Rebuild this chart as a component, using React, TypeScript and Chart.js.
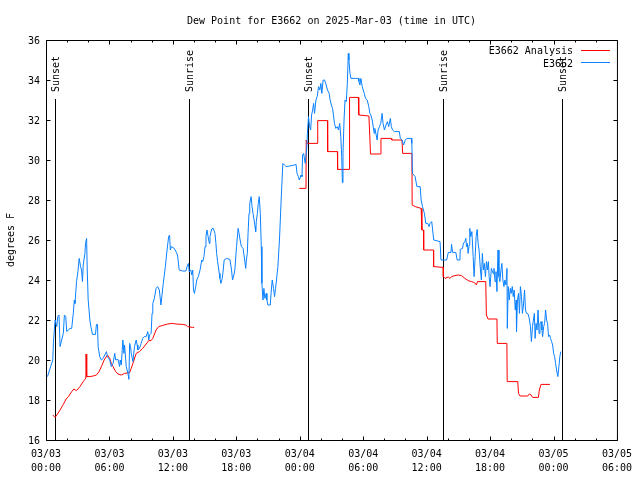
import React, { useEffect, useRef } from "react";
import { Chart, registerables } from "chart.js";

Chart.register(...registerables);

const FONT = "'DejaVu Sans Mono', 'Liberation Mono', monospace";

const TITLE = "Dew Point for E3662 on 2025-Mar-03 (time in UTC)";
const Y_TITLE = "degrees F";
const SERIES_NAMES = ["E3662 Analysis", "E3662"];
const SERIES_COLORS = ["#ff0000", "#0a80ff"];

// hours since 03/03 00:00 UTC
const X_MIN = 0;
const X_MAX = 54;
const X_STEP = 6;
const X_MINOR = 2;
const X_TICK_DATES = ["03/03", "03/03", "03/03", "03/03", "03/04", "03/04", "03/04", "03/04", "03/05", "03/05"];
const X_TICK_TIMES = ["00:00", "06:00", "12:00", "18:00", "00:00", "06:00", "12:00", "18:00", "00:00", "06:00"];

const Y_MIN = 16;
const Y_MAX = 36;
const Y_STEP = 2;

const SUN_EVENTS = ["Sunset", "Sunrise", "Sunset", "Sunrise", "Sunset"];
const SUN_TIMES = [0.83, 13.5, 24.77, 37.57, 48.85];

// E3662 observations: [hour, dew point F]
const observed: [number, number][] = [
  [0.14, 19.17], [0.64, 20.0], [0.7, 20.85], [0.86, 22.0], [1.02, 21.67], [1.11, 22.17], [1.23, 22.25],
  [1.33, 20.67], [1.48, 21.0], [1.64, 21.33], [1.74, 22.25], [1.87, 22.17], [1.96, 21.42], [2.27, 21.58],
  [2.43, 21.58], [2.58, 22.33], [2.68, 23.0], [2.74, 22.83], [2.89, 23.92], [3.02, 24.42], [3.14, 25.08],
  [3.27, 24.67], [3.36, 24.5], [3.45, 23.92], [3.52, 24.75], [3.68, 25.33], [3.74, 25.83], [3.84, 26.08],
  [3.9, 24.5], [3.99, 23.0], [4.15, 22.0], [4.24, 21.67], [4.4, 21.28], [4.68, 21.28], [4.77, 21.78],
  [4.87, 21.78], [4.93, 20.67], [5.08, 20.17], [5.24, 20.0], [5.4, 20.08], [5.56, 20.25], [5.72, 20.42],
  [5.81, 20.17], [6.03, 20.0], [6.18, 19.67], [6.34, 19.83], [6.5, 20.33], [6.59, 20.0], [6.81, 20.03],
  [6.96, 19.67], [7.02, 20.0], [7.12, 19.75], [7.27, 21.0], [7.37, 20.33], [7.43, 20.75], [7.59, 19.67],
  [7.75, 19.33], [7.84, 19.03], [7.91, 20.83], [8.0, 20.67], [8.06, 20.33], [8.22, 19.92], [8.37, 20.67],
  [8.53, 21.0], [8.62, 20.75], [8.69, 20.5], [8.84, 20.58], [9.0, 20.83], [9.15, 21.08], [9.31, 21.17],
  [9.47, 21.17], [9.63, 21.42], [9.72, 21.0], [9.79, 21.25], [9.94, 21.33], [10.03, 22.33], [10.1, 22.83],
  [10.25, 23.08], [10.41, 23.58], [10.56, 23.67], [10.72, 23.5], [10.87, 22.75], [10.97, 23.25],
  [11.09, 23.83], [11.29, 24.67], [11.45, 25.5], [11.6, 26.17], [11.69, 26.25], [11.76, 25.5],
  [11.85, 25.67], [12.13, 25.58], [12.29, 25.42], [12.44, 25.25], [12.6, 24.5], [12.91, 24.45],
  [13.23, 24.45], [13.39, 24.75], [13.48, 24.83], [13.54, 24.42], [13.7, 24.5], [13.79, 24.25],
  [13.88, 24.5], [13.95, 23.5], [14.04, 23.33], [14.16, 23.67], [14.26, 24.0], [14.41, 24.17],
  [14.57, 24.5], [14.73, 25.0], [14.82, 24.92], [14.94, 25.17], [15.04, 25.67], [15.13, 26.17],
  [15.23, 26.5], [15.33, 26.17], [15.45, 25.83], [15.51, 26.17], [15.67, 26.55], [15.83, 26.58],
  [15.98, 26.33], [16.07, 25.83], [16.14, 25.33], [16.23, 24.92], [16.39, 24.33], [16.45, 24.08],
  [16.54, 23.83], [16.67, 24.08], [16.76, 24.5], [16.85, 25.0], [17.08, 25.08], [17.39, 25.03],
  [17.55, 24.5], [17.64, 24.0], [17.77, 24.25], [17.86, 24.5], [18.02, 25.67], [18.17, 26.58],
  [18.26, 26.33], [18.36, 26.0], [18.48, 25.67], [18.64, 25.58], [18.79, 25.0], [18.89, 24.58],
  [18.95, 25.0], [19.04, 25.33], [19.11, 26.33], [19.2, 27.33], [19.27, 27.83], [19.4, 28.17],
  [19.49, 27.67], [19.58, 27.33], [19.68, 27.0], [19.77, 26.67], [19.83, 26.42], [19.89, 26.92],
  [19.99, 27.33], [20.08, 27.83], [20.17, 28.17], [20.27, 27.33], [20.36, 25.67], [20.42, 23.83],
  [20.52, 23.0], [20.61, 23.58], [20.7, 23.08], [20.83, 23.33], [20.89, 23.0], [20.99, 22.75],
  [21.21, 22.75], [21.31, 23.5], [21.4, 24.0], [21.52, 23.58], [21.62, 23.17], [21.71, 23.58],
  [21.8, 24.0], [21.93, 24.67], [22.08, 26.0], [22.24, 28.0], [22.4, 29.83], [22.55, 29.75],
  [22.71, 29.67], [23.03, 29.7], [23.5, 29.75], [23.65, 29.78], [23.74, 29.33], [23.87, 29.17],
  [23.96, 29.0], [24.12, 29.25], [24.21, 29.17], [24.27, 30.25], [24.37, 30.33], [24.46, 30.0],
  [24.52, 29.83], [24.65, 30.5], [24.74, 31.5], [24.83, 32.17], [24.93, 31.67], [25.03, 31.5],
  [25.12, 32.25], [25.22, 32.5], [25.31, 32.83], [25.4, 32.33], [25.53, 33.0], [25.65, 33.17],
  [25.78, 33.67], [25.9, 33.5], [26.0, 33.83], [26.09, 33.33], [26.21, 34.0], [26.34, 34.0],
  [26.46, 33.83], [26.62, 33.5], [26.78, 33.33], [26.87, 33.0], [26.99, 32.75], [27.1, 32.58],
  [27.19, 32.25], [27.28, 31.83], [27.41, 31.58], [27.56, 31.67], [27.66, 31.5], [27.78, 31.83],
  [27.88, 31.17], [27.97, 30.17], [28.03, 28.87], [28.09, 30.33], [28.19, 32.0], [28.28, 33.0],
  [28.4, 32.92], [28.5, 33.83], [28.59, 35.33], [28.65, 35.0], [28.75, 34.33], [28.84, 34.08],
  [29.29, 34.08], [29.54, 34.08], [29.6, 33.92], [29.69, 33.75], [29.78, 34.08], [29.91, 33.67],
  [30.0, 33.5], [30.1, 33.33], [30.22, 33.08], [30.38, 33.0], [30.53, 32.67], [30.63, 32.33],
  [30.72, 32.25], [30.85, 32.0], [30.95, 31.67], [31.04, 31.33], [31.1, 31.58], [31.2, 31.33],
  [31.32, 31.0], [31.41, 31.5], [31.54, 31.67], [31.66, 31.83], [31.79, 32.33], [31.88, 31.83],
  [32.01, 31.5], [32.16, 31.75], [32.29, 31.92], [32.41, 31.67], [32.57, 32.08], [32.66, 31.67],
  [32.78, 31.5], [32.95, 31.42], [33.42, 31.42], [33.51, 31.08], [33.67, 31.0], [33.82, 30.75],
  [33.98, 31.0], [34.13, 31.08], [34.54, 31.08], [34.6, 30.83], [34.66, 29.33], [34.91, 29.17],
  [35.08, 28.67], [35.39, 28.67], [35.48, 28.0], [35.61, 27.67], [35.79, 27.33], [35.92, 26.83],
  [36.11, 26.83], [36.23, 26.67], [36.32, 26.83], [36.48, 26.92], [36.57, 26.5], [36.67, 26.0],
  [37.27, 25.92], [37.36, 25.0], [37.89, 25.0], [38.05, 25.38], [38.3, 25.38], [38.36, 25.78],
  [38.45, 25.38], [38.76, 25.38], [38.89, 25.0], [39.15, 25.0], [39.18, 25.53], [39.4, 25.58],
  [39.46, 25.8], [39.61, 25.92], [39.71, 26.08], [39.77, 25.67], [39.86, 25.83], [39.92, 25.33],
  [40.02, 25.75], [40.08, 26.58], [40.17, 26.17], [40.28, 26.42], [40.4, 25.17], [40.49, 24.17],
  [40.59, 25.17], [40.68, 26.17], [40.78, 26.53], [40.87, 25.83], [40.96, 25.5], [41.09, 24.5],
  [41.18, 24.0], [41.27, 25.33], [41.37, 24.5], [41.46, 24.83], [41.56, 24.17], [41.66, 24.92],
  [41.75, 24.5], [41.84, 24.92], [41.91, 24.17], [42.0, 23.67], [42.12, 24.58], [42.28, 24.33],
  [42.37, 24.58], [42.47, 23.92], [42.56, 24.42], [42.65, 23.42], [42.75, 25.5], [42.84, 24.17],
  [42.93, 23.92], [43.03, 24.5], [43.12, 24.83], [43.21, 24.0], [43.31, 23.67], [43.4, 24.0],
  [43.5, 23.75], [43.6, 24.58], [43.63, 21.58], [43.72, 23.67], [43.82, 23.0], [43.91, 23.58],
  [44.0, 23.33], [44.1, 23.67], [44.19, 23.17], [44.28, 23.5], [44.38, 22.5], [44.47, 23.0],
  [44.5, 21.42], [44.59, 23.0], [44.69, 23.33], [44.78, 22.33], [44.87, 23.67], [44.97, 23.17],
  [45.06, 22.33], [45.16, 22.75], [45.26, 23.5], [45.35, 22.5], [45.45, 22.33], [45.54, 22.33],
  [45.63, 22.25], [45.73, 22.0], [45.82, 21.67], [45.91, 20.92], [46.01, 21.67], [46.1, 22.0],
  [46.19, 22.33], [46.26, 21.08], [46.35, 21.83], [46.44, 21.5], [46.54, 22.5], [46.63, 21.33],
  [46.72, 21.83], [46.82, 21.92], [46.91, 21.5], [46.97, 21.17], [47.07, 21.67], [47.16, 21.83],
  [47.25, 22.5], [47.35, 22.0], [47.44, 21.83], [47.53, 21.17], [47.63, 21.25], [47.72, 21.08],
  [47.82, 20.92], [47.92, 20.75], [48.01, 20.33], [48.1, 20.17], [48.2, 19.83], [48.29, 19.5],
  [48.41, 19.17], [48.51, 19.67], [48.6, 20.17], [48.69, 20.42],
];

// E3662 Analysis, first run: [hour, dew point F]
const analysisFirst: [number, number][] = [
  [0.64, 17.25], [0.86, 17.13], [1.02, 17.25], [1.33, 17.5], [1.64, 17.78], [1.9, 18.05], [2.12, 18.17],
  [2.43, 18.42], [2.64, 18.55], [2.89, 18.47], [3.21, 18.67], [3.52, 18.92], [3.68, 19.03], [3.77, 19.1],
  [3.79, 20.3], [3.83, 19.67], [3.87, 19.17], [4.15, 19.17], [4.46, 19.2], [4.77, 19.25], [5.02, 19.42],
  [5.24, 19.67], [5.5, 20.0], [5.81, 20.25], [6.03, 20.08], [6.18, 19.83], [6.34, 19.67], [6.59, 19.42],
  [6.81, 19.3], [7.12, 19.25], [7.43, 19.33], [7.91, 19.37], [8.06, 19.58], [8.22, 19.83], [8.53, 20.33],
  [8.84, 20.42], [9.15, 20.58], [9.47, 20.8], [9.72, 20.97], [9.94, 20.97], [10.1, 21.08], [10.41, 21.5],
  [10.66, 21.67], [11.04, 21.73], [11.51, 21.8], [11.97, 21.83], [12.29, 21.8], [12.91, 21.78],
  [13.23, 21.75], [13.39, 21.67], [13.85, 21.63], [14.01, 21.63],
];

// E3662 Analysis, second run: [hour, dew point F]
const analysisSecond: [number, number][] = [
  [23.95, 28.58], [24.59, 28.58], [24.61, 31.0], [24.7, 30.83], [25.69, 30.83], [25.7, 31.97],
  [26.62, 31.97], [26.64, 30.42], [27.56, 30.42], [27.58, 29.53], [28.69, 29.53], [28.71, 33.13],
  [29.54, 33.13], [29.58, 32.25], [30.54, 32.2], [30.62, 31.25], [30.69, 30.3], [31.63, 30.3],
  [31.68, 31.08], [32.64, 31.08], [32.7, 31.0], [33.67, 31.0], [33.73, 30.33], [34.61, 30.33],
  [34.63, 27.75], [34.92, 27.67], [35.48, 27.58], [35.55, 26.5], [35.71, 26.5], [35.72, 25.5],
  [36.65, 25.5], [36.66, 24.67], [37.56, 24.63], [37.58, 24.17], [37.74, 24.08], [38.05, 24.15],
  [38.21, 24.08], [38.36, 24.17], [38.68, 24.22], [38.99, 24.25], [39.3, 24.22], [39.62, 24.08],
  [39.93, 23.97], [40.24, 23.92], [40.46, 23.88], [40.62, 23.83], [40.71, 23.75], [40.81, 23.92],
  [41.59, 23.92], [41.65, 22.25], [41.81, 22.05], [42.65, 22.05], [42.68, 20.83], [43.59, 20.83],
  [43.62, 18.92], [44.62, 18.92], [44.69, 18.33], [44.84, 18.2], [45.56, 18.2], [45.72, 18.3],
  [45.88, 18.25], [46.03, 18.13], [46.57, 18.13], [46.66, 18.5], [46.82, 18.78], [47.66, 18.78],
];

const toPoints = (arr: [number, number][]) => arr.map(([x, y]) => ({ x, y }));

const gnuplotDecor = {
  id: "gnuplotDecor",
  beforeDatasetsDraw(chart: any) {
    const { ctx, chartArea } = chart;
    const xs = chart.scales.x;
    ctx.save();
    ctx.strokeStyle = "#000";
    ctx.lineWidth = 1;
    ctx.fillStyle = "#000";
    ctx.font = `10px ${FONT}`;
    SUN_TIMES.forEach((t, i) => {
      const px = Math.round(xs.getPixelForValue(t)) + 0.5;
      ctx.beginPath();
      ctx.moveTo(px, 99);
      ctx.lineTo(px, chartArea.bottom);
      ctx.stroke();
      ctx.save();
      ctx.translate(px + 0.5, 92);
      ctx.rotate(-Math.PI / 2);
      ctx.textAlign = "left";
      ctx.textBaseline = "middle";
      ctx.fillText(SUN_EVENTS[i], 0, 0);
      ctx.restore();
    });
    ctx.restore();
  },
  afterDraw(chart: any) {
    const { ctx, chartArea } = chart;
    const xs = chart.scales.x;
    const ys = chart.scales.y;
    const L = chartArea.left + 0.5;
    const R = chartArea.right + 0.5;
    const T = chartArea.top + 0.5;
    const B = chartArea.bottom + 0.5;
    ctx.save();
    ctx.strokeStyle = "#000";
    ctx.lineWidth = 1;
    ctx.beginPath();
    ctx.rect(L, T, R - L, B - T);
    // x ticks (major + minor), mirrored on top
    for (let v = X_MIN; v <= X_MAX + 1e-9; v += X_MINOR) {
      const major = Math.abs(v / X_STEP - Math.round(v / X_STEP)) < 1e-9;
      const len = major ? 4 : 2;
      const px = Math.round(xs.getPixelForValue(v)) + 0.5;
      ctx.moveTo(px, B);
      ctx.lineTo(px, B - len);
      ctx.moveTo(px, T);
      ctx.lineTo(px, T + len);
    }
    for (let v = Y_MIN; v <= Y_MAX + 1e-9; v += Y_STEP) {
      const py = Math.round(ys.getPixelForValue(v)) + 0.5;
      ctx.moveTo(L, py);
      ctx.lineTo(L + 4, py);
      ctx.moveTo(R, py);
      ctx.lineTo(R - 4, py);
    }
    ctx.stroke();

    ctx.fillStyle = "#000";
    ctx.font = `10px ${FONT}`;
    // title
    ctx.textAlign = "center";
    ctx.textBaseline = "alphabetic";
    ctx.fillText(TITLE, (chartArea.left + chartArea.right) / 2, 24);
    // y title
    ctx.save();
    ctx.translate(11, (chartArea.top + chartArea.bottom) / 2);
    ctx.rotate(-Math.PI / 2);
    ctx.textAlign = "center";
    ctx.textBaseline = "middle";
    ctx.fillText(Y_TITLE, 0, 0);
    ctx.restore();
    // legend
    ctx.textAlign = "right";
    ctx.textBaseline = "alphabetic";
    SERIES_NAMES.forEach((name, i) => {
      const base = 54 + i * 12.5;
      ctx.fillStyle = "#000";
      ctx.fillText(name, 573, base);
      ctx.strokeStyle = SERIES_COLORS[i];
      ctx.beginPath();
      ctx.moveTo(581, Math.round(base - 4.5) + 0.5);
      ctx.lineTo(610, Math.round(base - 4.5) + 0.5);
      ctx.stroke();
    });
    ctx.restore();
  },
};

export default function App() {
  const canvasRef = useRef<HTMLCanvasElement | null>(null);

  useEffect(() => {
    const canvas = canvasRef.current;
    if (!canvas) return;
    const lineOpts = {
      borderWidth: 1,
      pointRadius: 0,
      pointHoverRadius: 0,
      tension: 0,
      fill: false,
    };
    const chart = new Chart(canvas, {
      type: "line",
      data: {
        datasets: [
          { ...lineOpts, label: SERIES_NAMES[1], data: toPoints(observed), borderColor: SERIES_COLORS[1] },
          { ...lineOpts, label: SERIES_NAMES[0], data: toPoints(analysisFirst), borderColor: SERIES_COLORS[0] },
          { ...lineOpts, label: SERIES_NAMES[0] + " (2)", data: toPoints(analysisSecond), borderColor: SERIES_COLORS[0] },
        ],
      },
      options: {
        responsive: false,
        animation: false,
        devicePixelRatio: 1,
        events: [],
        layout: { padding: { top: 40, right: 19, left: 0, bottom: 0 } },
        plugins: {
          legend: { display: false },
          title: { display: false },
          tooltip: { enabled: false },
        },
        scales: {
          x: {
            type: "linear",
            min: X_MIN,
            max: X_MAX,
            grid: { display: false, drawTicks: false },
            border: { display: false },
            afterFit: (s: any) => {
              s.height = 40;
            },
            ticks: {
              stepSize: X_STEP,
              autoSkip: false,
              maxRotation: 0,
              minRotation: 0,
              padding: 8,
              color: "#000",
              font: { family: FONT, size: 10, lineHeight: 1.33 },
              callback: (v: any) => {
                const i = Math.round((Number(v) - X_MIN) / X_STEP);
                return [X_TICK_DATES[i], X_TICK_TIMES[i]];
              },
            },
          },
          y: {
            type: "linear",
            min: Y_MIN,
            max: Y_MAX,
            grid: { display: false, drawTicks: false },
            border: { display: false },
            afterFit: (s: any) => {
              s.width = 46;
            },
            ticks: {
              stepSize: Y_STEP,
              padding: 6,
              labelOffset: 1,
              color: "#000",
              font: { family: FONT, size: 10 },
            },
          },
        },
      },
      plugins: [gnuplotDecor],
    } as any);
    return () => chart.destroy();
  }, []);

  return (
    <div style={{ position: "absolute", left: 0, top: 0, width: 640, height: 480, background: "#fff" }}>
      <canvas ref={canvasRef} width={640} height={480} style={{ display: "block", width: 640, height: 480 }} />
    </div>
  );
}
